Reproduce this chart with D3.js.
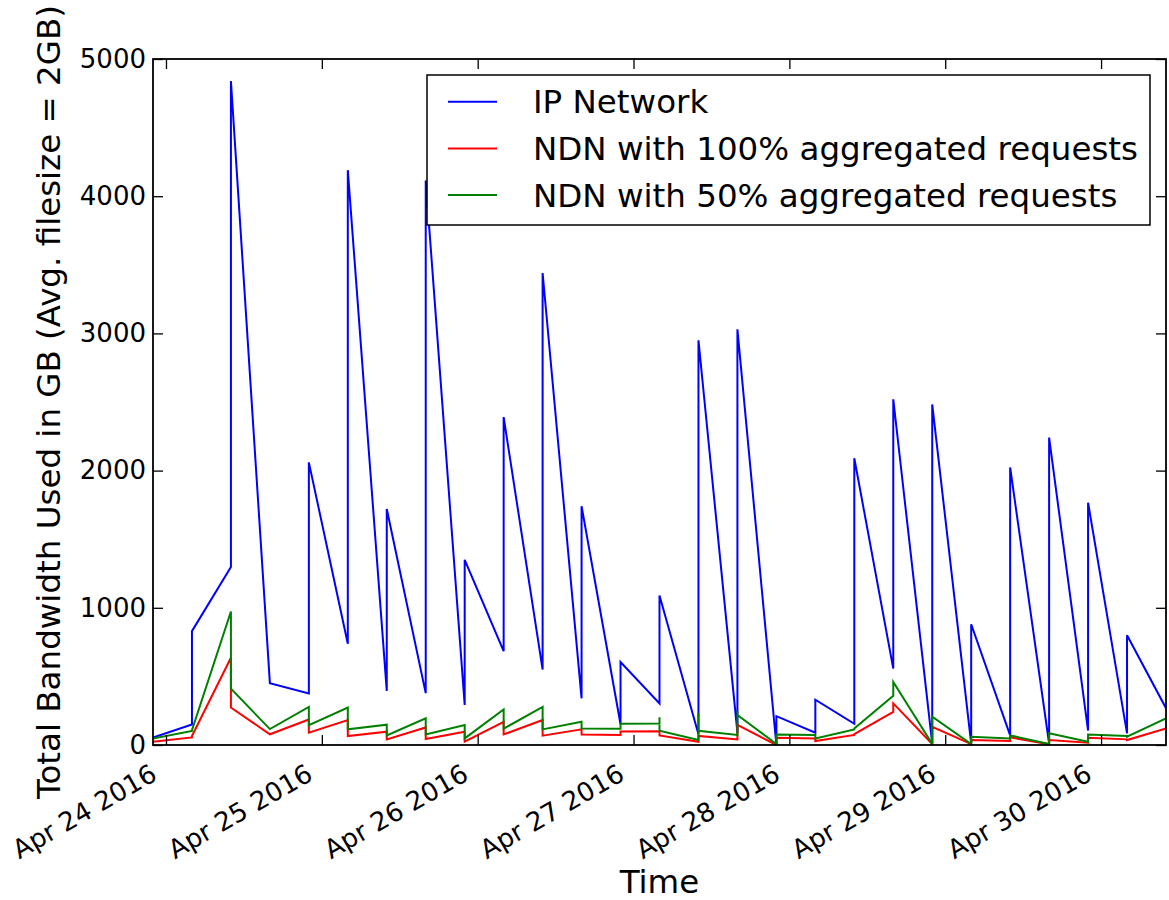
<!DOCTYPE html>
<html>
<head>
<meta charset="utf-8">
<script src="https://cdn.jsdelivr.net/npm/d3@7"></script>
<style>
  html, body { margin: 0; padding: 0; background: #fff; }
  svg { display: block; }
  svg text { font-family: "DejaVu Sans", sans-serif; }
</style>
</head>
<body>
<div id="chart"></div>
<script>
// sample times (6 hour steps)
const times = [
  "2016-04-23T22:00Z", "2016-04-24T04:00Z", "2016-04-24T10:00Z", "2016-04-24T16:00Z",
  "2016-04-24T22:00Z", "2016-04-25T04:00Z", "2016-04-25T10:00Z", "2016-04-25T16:00Z",
  "2016-04-25T22:00Z", "2016-04-26T04:00Z", "2016-04-26T10:00Z", "2016-04-26T16:00Z",
  "2016-04-26T22:00Z", "2016-04-27T04:00Z", "2016-04-27T10:00Z", "2016-04-27T16:00Z",
  "2016-04-27T22:00Z", "2016-04-28T04:00Z", "2016-04-28T10:00Z", "2016-04-28T16:00Z",
  "2016-04-28T22:00Z", "2016-04-29T04:00Z", "2016-04-29T10:00Z", "2016-04-29T16:00Z",
  "2016-04-29T22:00Z", "2016-04-30T04:00Z", "2016-04-30T10:00Z"
];

// values recorded at each time, in order (a jump gives two values at the same time)
const ipNetwork = [
  [55], [150, 830], [1298, 4840], [451], [375, 2060], [738, 4190], [394, 1720],
  [378, 4115], [292, 1350], [684, 2390], [550, 3440], [340, 1740], [151, 605],
  [303, 1090], [78, 2950], [90, 3030], [0, 210], [90, 330], [155, 2090],
  [557, 2520], [10, 2482], [10, 880], [70, 2023], [10, 2241], [105, 1766],
  [85, 800], [268]
];
const ndn100 = [
  [24], [55, 65], [636, 273], [78], [186, 90], [182, 65], [97, 41],
  [128, 44], [97, 24], [169, 77], [182, 68], [114, 77], [73, 99],
  [100, 70], [24, 66], [41, 146], [0, 53], [48, 29], [73, 80],
  [242, 303], [7, 133], [7, 36], [29, 56], [5, 36], [17, 53],
  [41, 36], [121]
];
const ndn50 = [
  [48], [102, 108], [973, 411], [116], [278, 145], [273, 114], [148, 70],
  [194, 77], [145, 48], [259, 119], [278, 114], [169, 121], [119, 155],
  [157, 202, 104], [36, 231, 104], [73, 250, 219], [7, 77], [73, 48], [114, 121],
  [358, 460], [7, 206], [7, 60], [48, 70], [7, 85], [24, 77],
  [65, 60], [194]
];

const seriesNames = ["IP Network", "NDN with 100% aggregated requests", "NDN with 50% aggregated requests"];
const seriesColors = ["#0000ff", "#ff0000", "#008000"];

const dayTicks = ["2016-04-24", "2016-04-25", "2016-04-26", "2016-04-27", "2016-04-28", "2016-04-29", "2016-04-30"];
const yTicks = [0, 1000, 2000, 3000, 4000, 5000];

const W = 1169, H = 900;
const margin = { top: 59, right: 3, bottom: 155, left: 153 };
const width = W - margin.left - margin.right;
const height = H - margin.top - margin.bottom;
const FONT = "DejaVu Sans";

const svg = d3.select("#chart").append("svg")
  .attr("width", W)
  .attr("height", H);

const g = svg.append("g")
  .attr("transform", `translate(${margin.left},${margin.top})`);

const parsed = times.map(t => new Date(t));

const x = d3.scaleUtc()
  .domain(d3.extent(parsed))
  .range([0, width]);

const y = d3.scaleLinear()
  .domain([0, 5000])
  .range([height, 0]);

const toPoints = groups => groups.flatMap((vals, i) => vals.map(v => ({ t: parsed[i], v })));

const line = d3.line()
  .x(d => x(d.t))
  .y(d => y(d.v));

const allSeries = [ipNetwork, ndn100, ndn50];

g.append("defs").append("clipPath").attr("id", "clip")
  .append("rect").attr("width", width).attr("height", height);

g.append("g").attr("clip-path", "url(#clip)")
  .selectAll("path")
  .data(allSeries)
  .join("path")
  .attr("fill", "none")
  .attr("stroke", (d, i) => seriesColors[i])
  .attr("stroke-width", 2)
  .attr("d", d => line(toPoints(d)));

const dayDates = dayTicks.map(d => new Date(d + "T00:00Z"));
const fmt = d3.utcFormat("%b %d %Y");

// bottom axis
const xAxis = g.append("g")
  .attr("transform", `translate(0,${height})`)
  .attr("font-family", FONT)
  .call(d3.axisBottom(x).tickValues(dayDates).tickFormat(fmt).tickSizeInner(-10).tickSizeOuter(0));
xAxis.selectAll("text")
  .attr("x", 0).attr("y", 0).attr("dy", 0)
  .attr("text-anchor", "end")
  .attr("transform", "translate(-8,34) rotate(-30)")
  .attr("font-size", "26px")
  .attr("fill", "#000");

// top axis (ticks only)
g.append("g")
  .call(d3.axisTop(x).tickValues(dayDates).tickFormat("").tickSizeInner(-10).tickSizeOuter(0));

// left axis
const yAxis = g.append("g")
  .attr("font-family", FONT)
  .call(d3.axisLeft(y).tickValues(yTicks).tickFormat(d3.format("d")).tickSizeInner(-10).tickSizeOuter(0).tickPadding(7));
yAxis.selectAll("text")
  .attr("font-size", "26px")
  .attr("fill", "#000");

// right axis (ticks only)
g.append("g")
  .attr("transform", `translate(${width},0)`)
  .call(d3.axisRight(y).tickValues(yTicks).tickFormat("").tickSizeInner(-10).tickSizeOuter(0));

g.selectAll(".domain").remove();
g.selectAll(".tick line").attr("stroke", "#000").attr("stroke-width", 1.3);

g.append("rect")
  .attr("width", width)
  .attr("height", height)
  .attr("fill", "none")
  .attr("stroke", "#000")
  .attr("stroke-width", 1.8);

// axis labels
svg.append("text")
  .attr("x", margin.left + width / 2)
  .attr("y", 893)
  .attr("text-anchor", "middle")
  .attr("font-family", FONT)
  .attr("font-size", "32.5px")
  .text("Time");

svg.append("text")
  .attr("transform", `translate(60,${margin.top + height / 2}) rotate(-90)`)
  .attr("text-anchor", "middle")
  .attr("font-family", FONT)
  .attr("font-size", "32.5px")
  .text("Total Bandwidth Used in GB (Avg. filesize = 2GB)");

// legend
const legend = svg.append("g");
legend.append("rect")
  .attr("x", 427).attr("y", 75)
  .attr("width", 723).attr("height", 150)
  .attr("fill", "#fff")
  .attr("stroke", "#000")
  .attr("stroke-width", 1.5);

const items = legend.selectAll("g.item")
  .data(seriesNames)
  .join("g")
  .attr("class", "item")
  .attr("transform", (d, i) => `translate(0,${101.7 + i * 46.7})`);
items.append("line")
  .attr("x1", 448).attr("x2", 497)
  .attr("stroke", (d, i) => seriesColors[i])
  .attr("stroke-width", 2);
items.append("text")
  .attr("x", 533)
  .attr("y", 11.5)
  .attr("font-family", FONT)
  .attr("font-size", "32.5px")
  .attr("fill", "#000")
  .text(d => d);
</script>
</body>
</html>
